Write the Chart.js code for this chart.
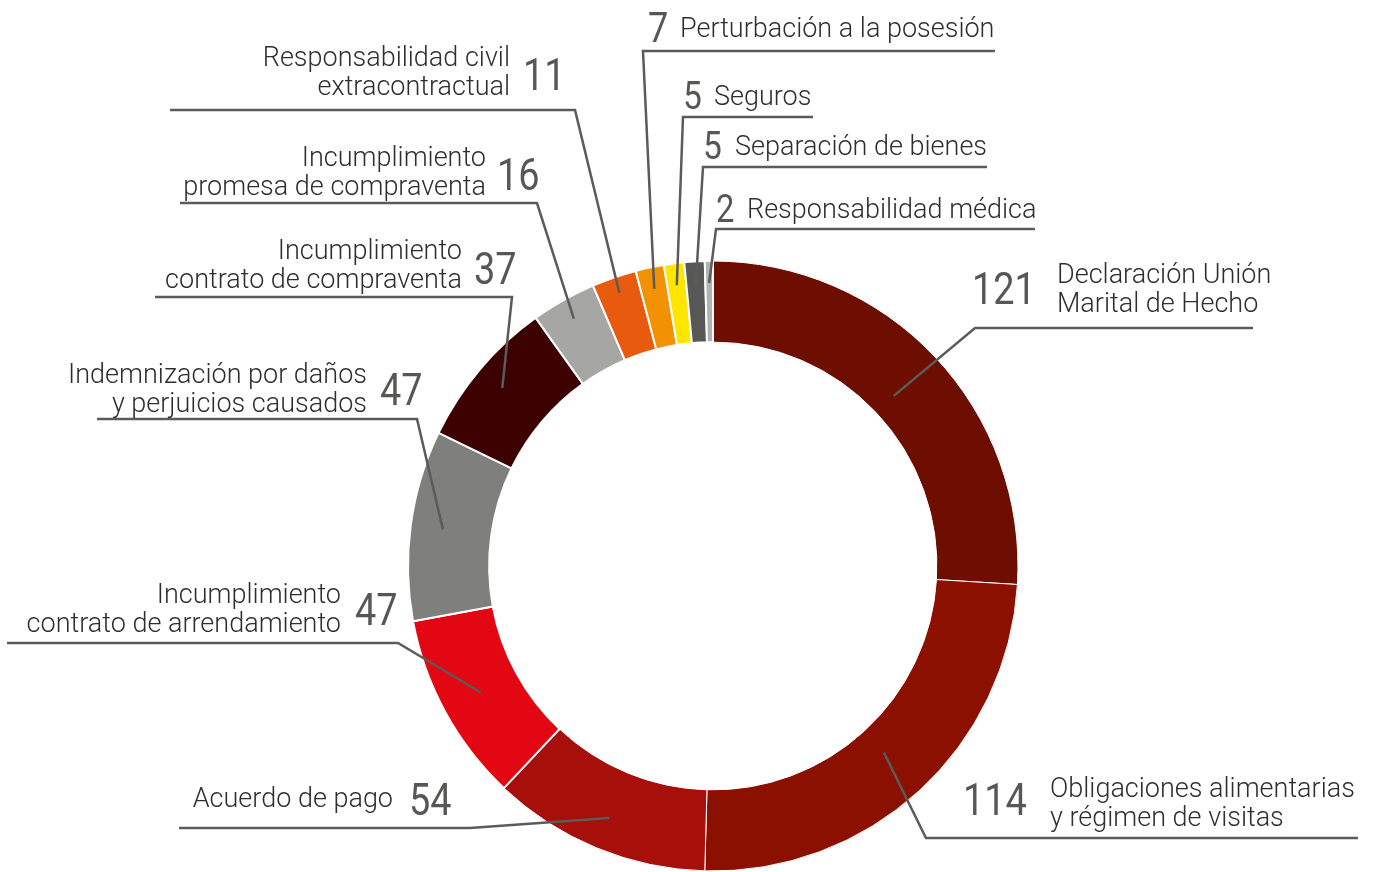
<!DOCTYPE html>
<html>
<head>
<meta charset="utf-8">
<script src="https://cdn.jsdelivr.net/npm/chart.js@4.4.1/dist/chart.umd.min.js"></script>
<style>
  html, body { margin:0; padding:0; background:#fff; }
  #wrap { width:1377px; height:872px; }
</style>
</head>
<body>
<div id="wrap"><canvas id="casos" width="1377" height="872"></canvas></div>
<script>
const categories = [
    ['Declaración Unión', 'Marital de Hecho'],
    ['Obligaciones alimentarias', 'y régimen de visitas'],
    ['Acuerdo de pago'],
    ['Incumplimiento', 'contrato de arrendamiento'],
    ['Indemnización por daños', 'y perjuicios causados'],
    ['Incumplimiento', 'contrato de compraventa'],
    ['Incumplimiento', 'promesa de compraventa'],
    ['Responsabilidad civil', 'extracontractual'],
    ['Perturbación a la posesión'],
    ['Seguros'],
    ['Separación de bienes'],
    ['Responsabilidad médica']
]
const casos = [121, 114, 54, 47, 47, 37, 16, 11, 7, 5, 5, 2]

const colores = ['#6e0e00', '#8b1000', '#a70f0a', '#e30613', '#7f7f7d', '#3d0000',
                 '#a6a6a5', '#e85b0f', '#f39200', '#ffe500', '#575756', '#b2b2b2']
const bordes = [1, 1, 1, 2, 2, 2, 2, 2, 2, 2, 2, 2]

// label placement: lado izq = text right aligned with number after it,
// der/arr = number first then text. the leader line leaves from the elbow
// (ux1 or ux2) and goes into the slice at depth prof of the ring
const etiquetas = [
    {lado:'der', tx:1057, ty:283, nx:972, ny:304, ns:44, ux1:975, ux2:1253, uy:328, codo:'ini', prof:0.3},
    {lado:'der', tx:1050, ty:797, nx:963, ny:815, ns:44, ux1:926, ux2:1358, uy:838, codo:'ini', prof:0.36},
    {lado:'izq', tx:393, ty:807, nx:409, ny:815, ns:44, ux1:179, ux2:470, uy:828, codo:'fin', prof:0.6},
    {lado:'izq', tx:341, ty:603, nx:355, ny:625, ns:44, ux1:7, ux2:398, uy:643, codo:'fin', prof:0.5},
    {lado:'izq', tx:367, ty:383, nx:380, ny:405, ns:44, ux1:97, ux2:417, uy:419, codo:'fin', prof:0.6},
    {lado:'izq', tx:462, ty:259, nx:474, ny:284, ns:44, ux1:155, ux2:512, uy:297, codo:'fin', prof:0.64},
    {lado:'izq', tx:486, ty:166, nx:497, ny:190, ns:44, ux1:180, ux2:537, uy:203, codo:'fin', prof:0.74},
    {lado:'izq', tx:510, ty:66, nx:523, ny:90, ns:44, ux1:170, ux2:575, uy:110, codo:'fin', prof:0.8},
    {lado:'arr', tx:680, ty:37, nx:648, ny:42, ns:42, ux1:643, ux2:995, uy:51, codo:'ini', prof:0.73},
    {lado:'arr', tx:714, ty:105, nx:683, ny:109, ns:39, ux1:683, ux2:813, uy:117, codo:'ini', prof:0.73},
    {lado:'arr', tx:735, ty:155, nx:703, ny:159, ns:39, ux1:703, ux2:987, uy:167, codo:'ini', prof:0.73},
    {lado:'arr', tx:747, ty:218, nx:716, ny:222, ns:38, ux1:716, ux2:1035, uy:229, codo:'ini', prof:0.73}
]

const rotulos = {
    id: 'rotulos',
    afterDraw(chart) {
        const ctx = chart.ctx
        const arcos = chart.getDatasetMeta(0).data
        ctx.save()
        etiquetas.forEach((e, i) => {
            const a = arcos[i]
            const medio = (a.startAngle + a.endAngle) / 2
            const r = a.innerRadius + e.prof * (a.outerRadius - a.innerRadius)
            const px = a.x + Math.cos(medio) * r
            const py = a.y + Math.sin(medio) * r
            const codoX = e.codo === 'fin' ? e.ux2 : e.ux1
            const otroX = e.codo === 'fin' ? e.ux1 : e.ux2

            ctx.strokeStyle = '#5b5b5b'
            ctx.lineWidth = 2.5
            ctx.lineJoin = 'miter'
            ctx.beginPath()
            ctx.moveTo(otroX, e.uy)
            ctx.lineTo(codoX, e.uy)
            ctx.lineTo(px, py)
            ctx.stroke()

            // category text
            ctx.fillStyle = '#2e2e2e'
            ctx.font = '300 27px Roboto'
            ctx.textBaseline = 'alphabetic'
            ctx.textAlign = e.lado === 'izq' ? 'right' : 'left'
            categories[i].forEach((linea, k) => {
                ctx.fillText(linea, e.tx, e.ty + k * 29)
            })

            // value
            ctx.fillStyle = '#575756'
            ctx.font = `400 ${e.ns}px Roboto`
            ctx.textAlign = 'left'
            ctx.save()
            ctx.translate(e.nx, e.ny)
            ctx.scale(0.86, 1)
            ctx.fillText(String(casos[i]), 0, 0)
            ctx.restore()
        })
        ctx.restore()
    }
}

new Chart(document.getElementById('casos'), {
    type: 'doughnut',
    data: {
        labels: categories,
        datasets: [{
            data: casos,
            backgroundColor: colores,
            borderColor: '#ffffff',
            borderWidth: bordes
        }]
    },
    options: {
        responsive: false,
        animation: false,
        cutout: '73.4%',
        layout: {
            padding: {top: 260, bottom: 0, left: 407, right: 358}
        },
        plugins: {
            legend: {display: false},
            tooltip: {enabled: false}
        }
    },
    plugins: [rotulos]
})
</script>
</body>
</html>
